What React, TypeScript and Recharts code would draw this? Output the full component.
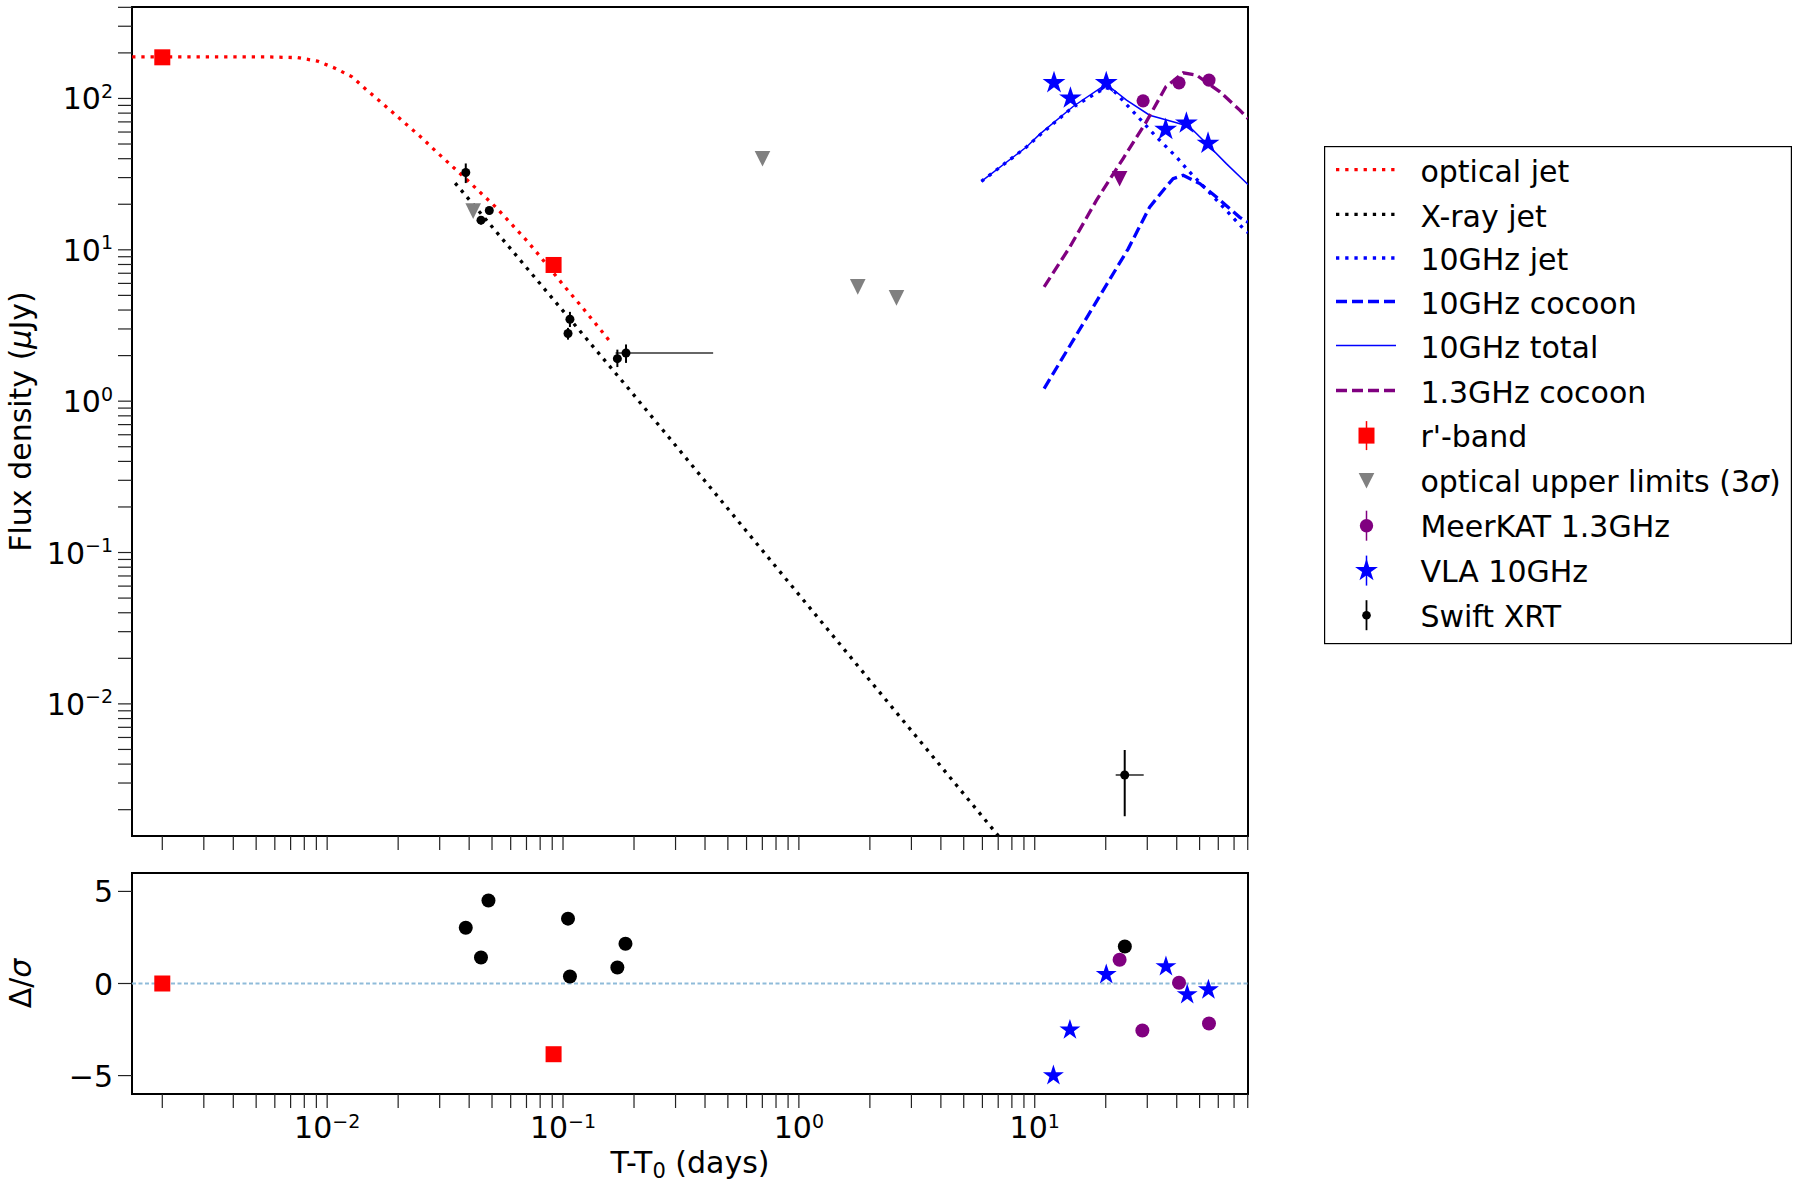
import React from "react";
import {
  ComposedChart,
  Line,
  Scatter,
  XAxis,
  YAxis,
  ErrorBar,
  ReferenceLine,
  ReferenceArea,
  Legend,
} from "recharts";

const FONT = "'DejaVu Sans', Verdana, sans-serif";
const FS = 30;

const RED = "#ff0000";
const BLUE = "#0000ff";
const PURPLE = "#800080";
const GRAY = "#808080";

// axis ranges
const X_MIN = 0.001488;
const X_MAX = 80.2;
const F_MIN = 0.00134;
const F_MAX = 402;
const R_MIN = -6;
const R_MAX = 6;

// tick decades (minor ticks at 1..9 x decade)
const X_DECADES = [0.001, 0.01, 0.1, 1, 10];
const F_DECADES = [0.001, 0.01, 0.1, 1, 10, 100];
const R_TICKS = [-5, 0, 5];

// ---- observations ----
// r'-band
const rBandT = [0.002, 0.0912];
const rBandF = [187, 7.94];
// optical upper limits (3 sigma)
const optUlT = [0.0416, 0.701, 1.777, 2.593];
const optUlF = [18.0, 40.0, 5.69, 4.81];
// Swift XRT
const xrtT = [0.0387, 0.0449, 0.0487, 0.107, 0.105, 0.17, 0.185, 24.07];
const xrtF = [32.4, 15.7, 18.2, 3.48, 2.8, 1.91, 2.08, 0.00339];
const xrtErrLo = [4.8, 1.0, 1.0, 0.39, 0.25, 0.23, 0.29, 0.00158];
const xrtErrHi = [4.8, 1.0, 1.0, 0.41, 0.25, 0.28, 0.29, 0.00157];
const xrtTErrLo = [0, 0, 0, 0, 0, 0, 0.018, 2.03];
const xrtTErrHi = [0, 0, 0, 0, 0, 0, 0.248, 4.9];
// MeerKAT 1.3 GHz
const meerT = [28.8, 40.9, 54.8];
const meerF = [96.4, 126.8, 132.2];
const meerUlT = [22.9];
const meerUlF = [29.5];
// VLA 10 GHz
const vlaT = [12.07, 14.17, 20.1, 35.9, 43.95, 54.3];
const vlaF = [127, 100.5, 127, 62.3, 68.7, 50.5];

// ---- model curves ----
const optJetT = [0.00149, 0.003, 0.0055, 0.0075, 0.0091, 0.01085, 0.01274, 0.01462, 0.01673, 0.02069, 0.02494, 0.0288, 0.0377, 0.0405, 0.0522, 0.0707, 0.0798, 0.1001, 0.1197, 0.1503, 0.158];
const optJetF = [188.5, 188.5, 188.3, 186, 176.6, 158, 139, 114.7, 96, 71.8, 55.7, 45.0, 30.6, 27.6, 18.97, 11.35, 9.07, 5.87, 4.23, 2.74, 2.48];
const xrayJetT = [0.0349, 0.1905, 7.02];
const xrayJetF = [27.6, 1.2, 0.00134];
const jet10T = [5.94, 9.22, 10.48, 14.54, 20.0, 21.5, 27.0, 32.8, 39.9, 44.7, 61.0, 78.0, 80.2];
const jet10F = [28.3, 47.8, 57.1, 88.0, 118, 113.5, 77.5, 55.7, 41.0, 33.5, 20.2, 13.4, 13.0];
const coc10T = [10.96, 17.7, 24.9, 30.7, 35.97, 38.6, 42.6, 50.1, 58.9, 74.0, 80.2];
const coc10F = [1.21, 4.2, 10.15, 19.15, 25.97, 29.5, 31.1, 27.4, 22.3, 16.4, 15.2];
const tot10T = [5.94, 9.22, 10.48, 14.54, 20.1, 24.5, 30.7, 39.9, 45.4, 53.5, 64.9, 80.2];
const tot10F = [28.3, 47.8, 57.9, 88.5, 124.3, 97.4, 77.5, 69.0, 64.9, 50.4, 37.1, 27.0];
const coc13T = [10.96, 14.07, 18.26, 23.7, 29.7, 35.97, 42.6, 48.5, 61.0, 74.0, 80.2];
const coc13F = [5.69, 10.4, 21.2, 40.1, 70.0, 119.4, 147.7, 142.6, 110.6, 83.7, 73.7];

// ---- residuals ----
const resRBandT = [0.002, 0.0912];
const resRBand = [0.0, -3.84];
const resXrtT = [0.0387, 0.0449, 0.0483, 0.105, 0.107, 0.17, 0.184, 24.1];
const resXrt = [3.03, 1.41, 4.51, 3.52, 0.38, 0.87, 2.16, 2.01];
const resMeerT = [22.9, 28.6, 40.9, 54.8];
const resMeer = [1.29, -2.55, 0.04, -2.17];
const resVlaT = [12.0, 14.1, 20.1, 36.0, 44.3, 54.5];
const resVla = [-5.0, -2.52, 0.49, 0.92, -0.6, -0.34];

const LEGEND_LABELS = [
  "optical jet",
  "X-ray jet",
  "10GHz jet",
  "10GHz cocoon",
  "10GHz total",
  "1.3GHz cocoon",
  "r'-band",
  "optical upper limits (3σ)",
  "MeerKAT 1.3GHz",
  "VLA 10GHz",
  "Swift XRT",
];
// text baselines inside the legend frame (marker rows are a little taller)
const LEGEND_BASELINES = [36.1, 80.8, 124.4, 167.9, 212.0, 256.9, 301.1, 346.2, 391.2, 436.1, 480.7];

const withMinor = (decades: number[], lo: number, hi: number) => {
  const out: number[] = [];
  decades.forEach((d) => {
    for (let k = 1; k <= 9; k++) {
      const v = +(d * k).toPrecision(6);
      if (v >= lo && v <= hi) out.push(v);
    }
  });
  return out;
};
const X_TICKS = withMinor(X_DECADES, X_MIN, X_MAX);
const F_TICKS = withMinor(F_DECADES, F_MIN, F_MAX);

const pts = (ts: number[], fs: number[]) => ts.map((t, i) => ({ t, f: fs[i] }));
const res = (ts: number[], rs: number[]) => ts.map((t, i) => ({ t, r: rs[i] }));

const rBand = pts(rBandT, rBandF);
const optUl = pts(optUlT, optUlF);
const xrt = xrtT.map((t, i) => ({
  t,
  f: xrtF[i],
  ef: [xrtErrLo[i], xrtErrHi[i]],
  et: [xrtTErrLo[i], xrtTErrHi[i]],
}));
const meer = pts(meerT, meerF);
const meerUl = pts(meerUlT, meerUlF);
const vla = pts(vlaT, vlaF);

const isDecade = (v: number) => {
  const l = Math.log10(v);
  return Math.abs(l - Math.round(l)) < 1e-6;
};
const expText = (v: number) => {
  const e = Math.round(Math.log10(v));
  return e < 0 ? `\u2212${-e}` : `${e}`;
};

function starPath(cx: number, cy: number, R: number) {
  const p: string[] = [];
  for (let i = 0; i < 10; i++) {
    const r = i % 2 === 0 ? R : R * 0.381966;
    const a = -Math.PI / 2 + (i * Math.PI) / 5;
    p.push(`${(cx + r * Math.cos(a)).toFixed(2)},${(cy + r * Math.sin(a)).toFixed(2)}`);
  }
  return `M${p.join("L")}Z`;
}

const square = (size: number, color: string) => (p: any) =>
  <rect x={p.cx - size / 2} y={p.cy - size / 2} width={size} height={size} fill={color} />;
const dot = (r: number, color: string) => (p: any) =>
  <circle cx={p.cx} cy={p.cy} r={r} fill={color} />;
const star = (R: number, color: string) => (p: any) =>
  <path d={starPath(p.cx, p.cy, R)} fill={color} />;
const triDown = (s: number, color: string) => (p: any) =>
  <path d={`M${p.cx},${p.cy + s}L${p.cx - s},${p.cy - s}L${p.cx + s},${p.cy - s}Z`} fill={color} />;

const YPowTick = (props: any) => {
  const { x, y, payload } = props;
  if (!isDecade(payload.value)) return <g />;
  return (
    <text x={x} y={y + 11} textAnchor="end" fontFamily={FONT} fontSize={FS} fill="#000">
      10<tspan fontSize={19} dy={-11.5}>{expText(payload.value)}</tspan>
    </text>
  );
};

const XPowTick = (props: any) => {
  const { x, y, payload } = props;
  if (!isDecade(payload.value)) return <g />;
  return (
    <text x={x} y={y + 26} textAnchor="middle" fontFamily={FONT} fontSize={FS} fill="#000">
      10<tspan fontSize={19} dy={-10}>{expText(payload.value)}</tspan>
    </text>
  );
};

const ResTick = (props: any) => {
  const { x, y, payload } = props;
  const v = payload.value;
  return (
    <text x={x} y={y + 11} textAnchor="end" fontFamily={FONT} fontSize={FS} fill="#000">
      {v < 0 ? `\u2212${-v}` : `${v}`}
    </text>
  );
};

const NoTick = () => <g />;

const TICK_LINE = { stroke: "#222", strokeWidth: 1.2 };

function LegendHandle({ i, base }: { i: number; base: number }) {
  const x1 = 12;
  const x2 = 72;
  const mx = 42.5;
  const ly = base - 12.4;
  const my = base - 11.5;
  switch (i) {
    case 0:
      return <line x1={x1} x2={x2} y1={ly} y2={ly} stroke={RED} strokeWidth={3.3} strokeDasharray="3.3 5.9" />;
    case 1:
      return <line x1={x1} x2={x2} y1={ly} y2={ly} stroke="#000" strokeWidth={3.3} strokeDasharray="3.3 5.9" />;
    case 2:
      return <line x1={x1} x2={x2} y1={ly} y2={ly} stroke={BLUE} strokeWidth={3.3} strokeDasharray="3.3 5.9" />;
    case 3:
      return <line x1={x1} x2={x2} y1={ly} y2={ly} stroke={BLUE} strokeWidth={3.3} strokeDasharray="11 5" />;
    case 4:
      return <line x1={x1} x2={x2} y1={ly} y2={ly} stroke={BLUE} strokeWidth={1.5} />;
    case 5:
      return <line x1={x1} x2={x2} y1={ly} y2={ly} stroke={PURPLE} strokeWidth={3.3} strokeDasharray="11 5" />;
    case 6:
      return (
        <g>
          <line x1={mx} x2={mx} y1={my - 14.5} y2={my + 14.5} stroke={RED} strokeWidth={1.5} />
          <rect x={mx - 8} y={my - 8} width={16} height={16} fill={RED} />
        </g>
      );
    case 7:
      return <path d={`M${mx},${my + 7.8}L${mx - 7.8},${my - 7.8}L${mx + 7.8},${my - 7.8}Z`} fill={GRAY} />;
    case 8:
      return (
        <g>
          <line x1={mx} x2={mx} y1={my - 15} y2={my + 15} stroke={PURPLE} strokeWidth={1.5} />
          <circle cx={mx} cy={my} r={6.7} fill={PURPLE} />
        </g>
      );
    case 9:
      return (
        <g>
          <line x1={mx} x2={mx} y1={my - 15} y2={my + 15} stroke={BLUE} strokeWidth={1.5} />
          <path d={starPath(mx, my, 12)} fill={BLUE} />
        </g>
      );
    default:
      return (
        <g>
          <line x1={mx} x2={mx} y1={my - 15} y2={my + 15} stroke="#000" strokeWidth={1.8} />
          <circle cx={mx} cy={my} r={4.3} fill="#000" />
        </g>
      );
  }
}

function LegendBox() {
  return (
    <svg width={468} height={499} style={{ display: "block" }}>
      <rect x={0.6} y={0.6} width={466.8} height={497} fill="#fff" stroke="#000" strokeWidth={1.2} />
      {LEGEND_LABELS.map((label, i) => {
        const base = LEGEND_BASELINES[i];
        const parts = label.split("σ");
        return (
          <g key={label}>
            <LegendHandle i={i} base={base} />
            <text x={96.4} y={base} fontFamily={FONT} fontSize={FS} fill="#000">
              {parts[0]}
              {parts.length > 1 && <tspan fontStyle="italic">σ</tspan>}
              {parts.length > 1 && parts[1]}
            </text>
          </g>
        );
      })}
    </svg>
  );
}

export default function App() {
  return (
    <div
      style={{
        position: "absolute",
        left: 0,
        top: 0,
        width: 1798,
        height: 1189,
        background: "#fff",
        overflow: "hidden",
        fontFamily: FONT,
      }}
    >
      <div style={{ position: "absolute", left: 0, top: 0 }}>
        <ComposedChart width={1798} height={870} margin={{ top: 7, right: 550, bottom: 0, left: 0 }}>
          <XAxis
            type="number"
            dataKey="t"
            scale="log"
            domain={[X_MIN, X_MAX]}
            allowDataOverflow
            ticks={X_TICKS}
            interval={0}
            tick={NoTick}
            tickSize={14}
            tickLine={TICK_LINE}
            axisLine={false}
            height={34}
          />
          <YAxis
            type="number"
            dataKey="f"
            scale="log"
            domain={[F_MIN, F_MAX]}
            allowDataOverflow
            ticks={F_TICKS}
            interval={0}
            tick={YPowTick}
            tickSize={14}
            tickMargin={5}
            tickLine={TICK_LINE}
            axisLine={false}
            width={132}
          />
          <Line data={pts(optJetT, optJetF)} dataKey="f" stroke={RED} strokeWidth={3.3} strokeDasharray="3.3 5.9" dot={false} activeDot={false} isAnimationActive={false} legendType="none" />
          <Line data={pts(xrayJetT, xrayJetF)} dataKey="f" stroke="#000" strokeWidth={3.3} strokeDasharray="3.3 5.9" dot={false} activeDot={false} isAnimationActive={false} legendType="none" />
          <Line data={pts(jet10T, jet10F)} dataKey="f" stroke={BLUE} strokeWidth={3.3} strokeDasharray="3.3 5.9" dot={false} activeDot={false} isAnimationActive={false} legendType="none" />
          <Line data={pts(coc10T, coc10F)} dataKey="f" stroke={BLUE} strokeWidth={3.3} strokeDasharray="11 5" dot={false} activeDot={false} isAnimationActive={false} legendType="none" />
          <Line data={pts(tot10T, tot10F)} dataKey="f" stroke={BLUE} strokeWidth={1.5} dot={false} activeDot={false} isAnimationActive={false} legendType="none" />
          <Line data={pts(coc13T, coc13F)} dataKey="f" stroke={PURPLE} strokeWidth={3.3} strokeDasharray="11 5" dot={false} activeDot={false} isAnimationActive={false} legendType="none" />

          <Scatter data={optUl} dataKey="f" shape={triDown(7.8, GRAY)} isAnimationActive={false} legendType="none" />
          <Scatter data={meerUl} dataKey="f" shape={triDown(7.8, PURPLE)} isAnimationActive={false} legendType="none" />
          <Scatter data={rBand} dataKey="f" shape={square(16, RED)} isAnimationActive={false} legendType="none" />
          <Scatter data={xrt} dataKey="f" shape={dot(4.5, "#000")} isAnimationActive={false} legendType="none">
            <ErrorBar dataKey="et" direction="x" width={0} stroke="#333" strokeWidth={1.6} isAnimationActive={false} />
            <ErrorBar dataKey="ef" direction="y" width={0} stroke="#000" strokeWidth={2} isAnimationActive={false} />
          </Scatter>
          <Scatter data={meer} dataKey="f" shape={dot(6.6, PURPLE)} isAnimationActive={false} legendType="none" />
          <Scatter data={vla} dataKey="f" shape={star(12, BLUE)} isAnimationActive={false} legendType="none" />

          <ReferenceArea x1={X_MIN} x2={X_MAX} y1={F_MIN} y2={F_MAX} fill="none" fillOpacity={0} stroke="#000" strokeWidth={2} ifOverflow="visible" />
          <Legend
            layout="horizontal"
            verticalAlign="middle"
            align="center"
            width={468}
            height={499}
            wrapperStyle={{ left: 1324, top: 146, width: 468, height: 499 }}
            content={() => <LegendBox />}
          />
        </ComposedChart>
      </div>

      <div style={{ position: "absolute", left: 0, top: 850 }}>
        <ComposedChart width={1798} height={339} margin={{ top: 23, right: 550, bottom: 0, left: 0 }}>
          <XAxis
            type="number"
            dataKey="t"
            scale="log"
            domain={[X_MIN, X_MAX]}
            allowDataOverflow
            ticks={X_TICKS}
            interval={0}
            tick={XPowTick}
            tickSize={14}
            tickMargin={4}
            tickLine={TICK_LINE}
            axisLine={false}
            height={95}
          />
          <YAxis
            type="number"
            dataKey="r"
            domain={[R_MIN, R_MAX]}
            allowDataOverflow
            ticks={R_TICKS}
            interval={0}
            tick={ResTick}
            tickSize={14}
            tickMargin={5}
            tickLine={TICK_LINE}
            axisLine={false}
            width={132}
          />
          <ReferenceLine y={0} stroke="#8fbbd9" strokeWidth={2} strokeDasharray="4 2.5" />
          <Scatter data={res(resRBandT, resRBand)} dataKey="r" shape={square(16, RED)} isAnimationActive={false} legendType="none" />
          <Scatter data={res(resXrtT, resXrt)} dataKey="r" shape={dot(7, "#000")} isAnimationActive={false} legendType="none" />
          <Scatter data={res(resMeerT, resMeer)} dataKey="r" shape={dot(7, PURPLE)} isAnimationActive={false} legendType="none" />
          <Scatter data={res(resVlaT, resVla)} dataKey="r" shape={star(11, BLUE)} isAnimationActive={false} legendType="none" />
          <ReferenceArea x1={X_MIN} x2={X_MAX} y1={R_MIN} y2={R_MAX} fill="none" fillOpacity={0} stroke="#000" strokeWidth={2} ifOverflow="visible" />
        </ComposedChart>
      </div>

      <svg
        width={1798}
        height={1189}
        style={{ position: "absolute", left: 0, top: 0, pointerEvents: "none" }}
        fontFamily={FONT}
        fontSize={FS}
      >
        <text transform="translate(31,421.5) rotate(-90)" textAnchor="middle" fill="#000">
          Flux density (<tspan fontStyle="italic">μ</tspan>Jy)
        </text>
        <text transform="translate(31,983.5) rotate(-90)" textAnchor="middle" fill="#000">
          Δ/<tspan fontStyle="italic">σ</tspan>
        </text>
        <text x={690} y={1173} textAnchor="middle" fill="#000">
          T-T<tspan fontSize={21} dy={5}>0</tspan>
          <tspan dy={-5}>{" (days)"}</tspan>
        </text>
      </svg>
    </div>
  );
}
